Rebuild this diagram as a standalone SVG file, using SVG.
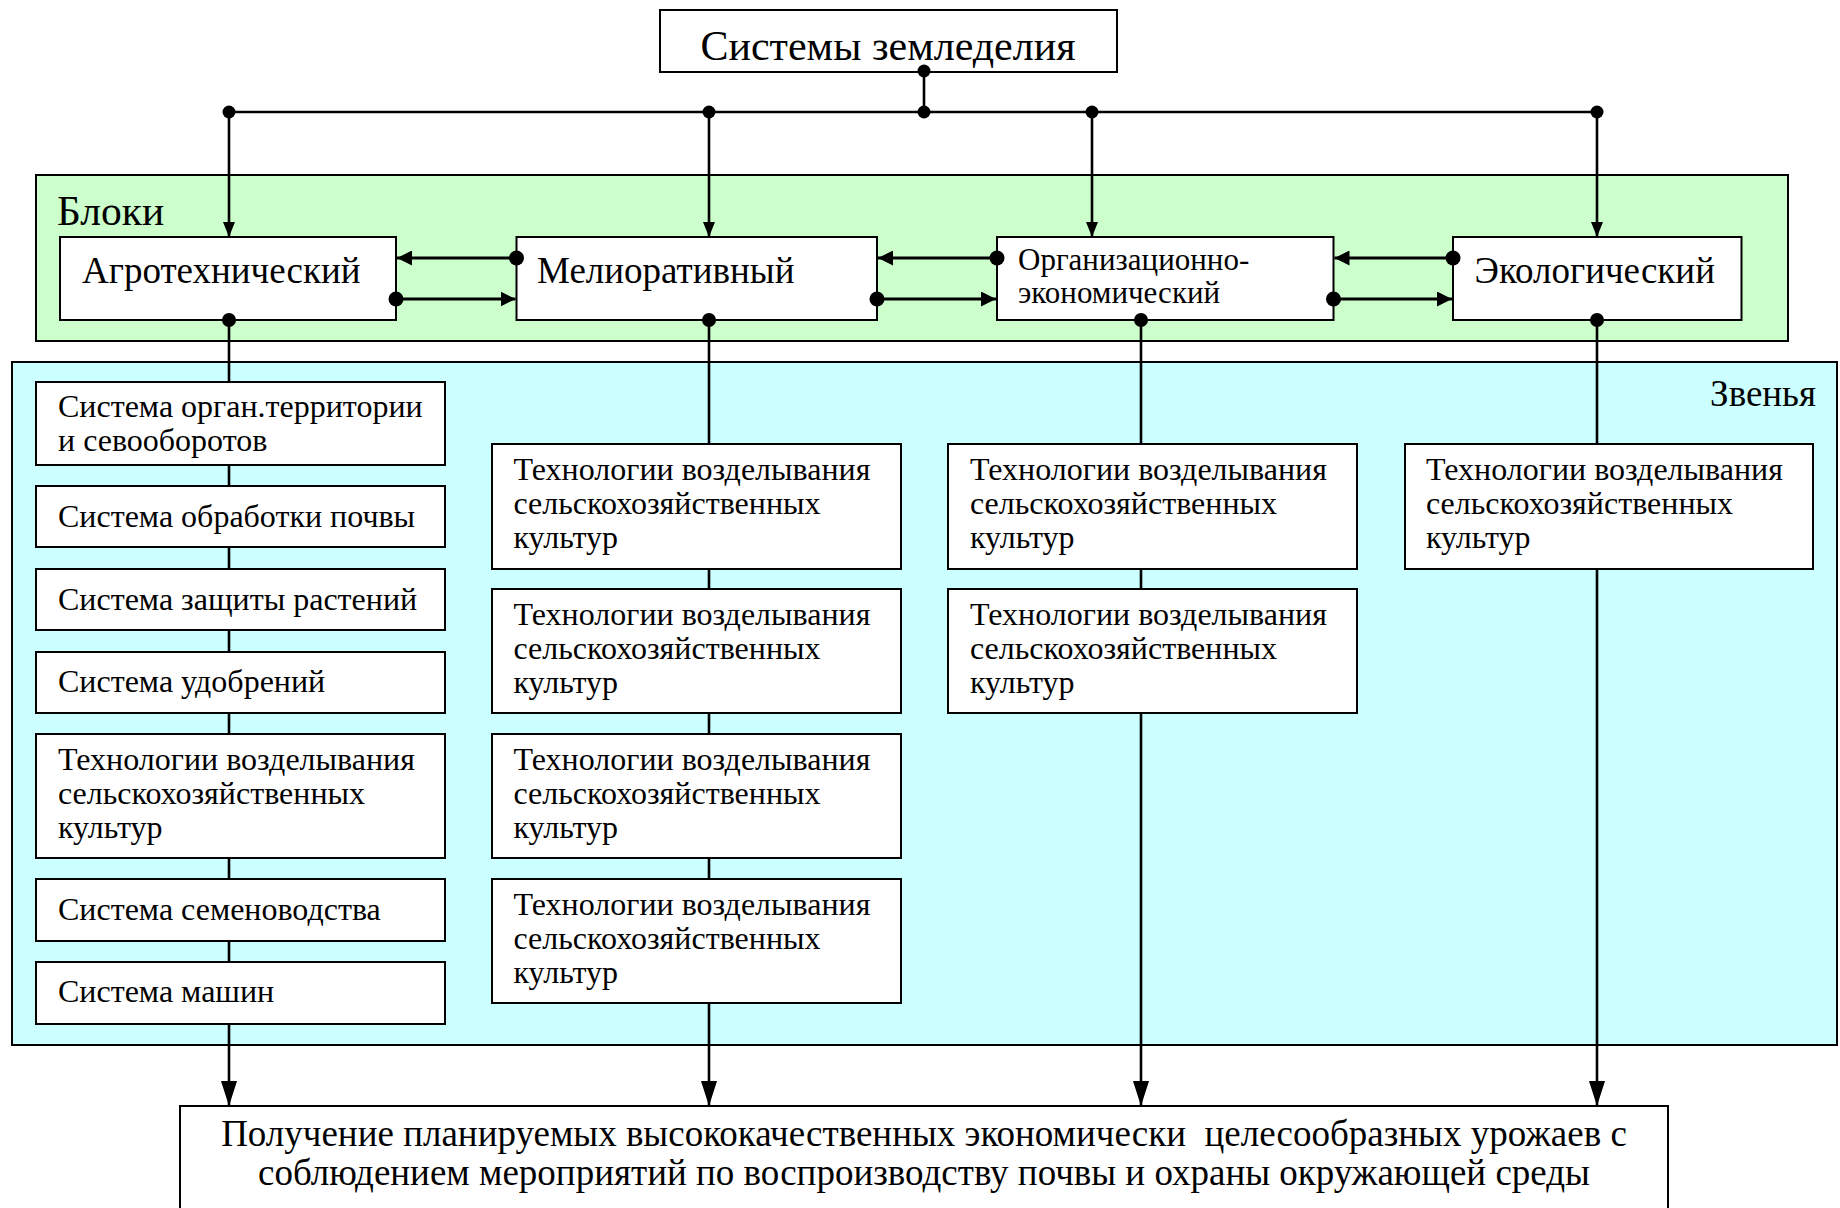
<svg xmlns="http://www.w3.org/2000/svg" width="1840" height="1208" viewBox="0 0 1840 1208">
<defs>
<style>
.t{font-family:"Liberation Serif","Times New Roman",serif;fill:#000}
.box{fill:#fff;stroke:#000;stroke-width:2}
.ln{fill:none;stroke:#000;stroke-width:2.6}
.lh{fill:none;stroke:#000;stroke-width:3}
.dot{fill:#000}
.s31{font-size:32px}
.s36{font-size:37px}
.s32{font-size:31px}
</style>
<marker id="arrT" markerUnits="userSpaceOnUse" viewBox="0 0 15 12" refX="15" refY="6" markerWidth="15" markerHeight="12" orient="auto"><path d="M0,0 L15,6 L0,12 z" fill="#000"/></marker>
<marker id="arrH" markerUnits="userSpaceOnUse" viewBox="0 0 15 15" refX="15" refY="7.5" markerWidth="15" markerHeight="15" orient="auto"><path d="M0,0 L15,7.5 L0,15 z" fill="#000"/></marker>
<marker id="arrB" markerUnits="userSpaceOnUse" viewBox="0 0 25 16" refX="25" refY="8" markerWidth="25" markerHeight="16" orient="auto"><path d="M0,0 L25,8 L0,16 z" fill="#000"/></marker>
</defs>
<rect width="1840" height="1208" fill="#fff"/>

<g id="blocks-area">
<rect x="36" y="175" width="1752" height="166" fill="#CCFFCC" stroke="#000" stroke-width="2"/>
<text class="t" x="57" y="225" font-size="41.5">Блоки</text>
</g>
<g id="links-area">
<rect x="12" y="362" width="1825" height="683" fill="#CCFFFF" stroke="#000" stroke-width="2"/>
<text class="t" x="1816" y="406" font-size="37" text-anchor="end">Звенья</text>
</g>

<g id="title"><rect class="box" x="660" y="10" width="457" height="62"/><text class="t" x="888" y="60" font-size="42" text-anchor="middle">Системы земледелия</text></g>

<g id="agro"><rect class="box" x="60" y="237" width="336" height="83"/><text class="t s36" x="82" y="283">Агротехнический</text></g>
<g id="melior"><rect class="box" x="516.5" y="237" width="360.5" height="83"/><text class="t s36" x="537" y="283">Мелиоративный</text></g>
<g id="org"><rect class="box" x="997" y="237" width="336.5" height="83"/><text class="t s32" x="1018" y="270">Организационно-</text><text class="t s32" x="1018" y="303">экономический</text></g>
<g id="eco"><rect class="box" x="1453" y="237" width="288.5" height="83"/><text class="t s36" x="1474.5" y="283">Экологический</text></g>

<g id="l1"><rect class="box" x="36" y="382" width="409" height="83"/><text class="t s31" x="58" y="417">Система орган.территории</text><text class="t s31" x="58" y="451">и севооборотов</text></g>
<g id="l2"><rect class="box" x="36" y="486" width="409" height="61"/><text class="t s31" x="58" y="527">Система обработки почвы</text></g>
<g id="l3"><rect class="box" x="36" y="569" width="409" height="61"/><text class="t s31" x="58" y="610">Система защиты растений</text></g>
<g id="l4"><rect class="box" x="36" y="652" width="409" height="61"/><text class="t s31" x="58" y="692">Система удобрений</text></g>
<g id="l5"><rect class="box" x="36" y="734" width="409" height="124"/><text class="t s31" x="58" y="770">Технологии возделывания</text><text class="t s31" x="58" y="804">сельскохозяйственных</text><text class="t s31" x="58" y="838">культур</text></g>
<g id="l6"><rect class="box" x="36" y="879" width="409" height="62"/><text class="t s31" x="58" y="920">Система семеноводства</text></g>
<g id="l7"><rect class="box" x="36" y="962" width="409" height="62"/><text class="t s31" x="58" y="1002">Система машин</text></g>

<g id="m1"><rect class="box" x="492" y="444" width="409" height="125"/><text class="t s31" x="513.5" y="480">Технологии возделывания</text><text class="t s31" x="513.5" y="514">сельскохозяйственных</text><text class="t s31" x="513.5" y="548">культур</text></g>
<g id="m2"><rect class="box" x="492" y="589" width="409" height="124"/><text class="t s31" x="513.5" y="625">Технологии возделывания</text><text class="t s31" x="513.5" y="659">сельскохозяйственных</text><text class="t s31" x="513.5" y="693">культур</text></g>
<g id="m3"><rect class="box" x="492" y="734" width="409" height="124"/><text class="t s31" x="513.5" y="770">Технологии возделывания</text><text class="t s31" x="513.5" y="804">сельскохозяйственных</text><text class="t s31" x="513.5" y="838">культур</text></g>
<g id="m4"><rect class="box" x="492" y="879" width="409" height="124"/><text class="t s31" x="513.5" y="915">Технологии возделывания</text><text class="t s31" x="513.5" y="949">сельскохозяйственных</text><text class="t s31" x="513.5" y="983">культур</text></g>

<g id="o1"><rect class="box" x="948" y="444" width="409" height="125"/><text class="t s31" x="970" y="480">Технологии возделывания</text><text class="t s31" x="970" y="514">сельскохозяйственных</text><text class="t s31" x="970" y="548">культур</text></g>
<g id="o2"><rect class="box" x="948" y="589" width="409" height="124"/><text class="t s31" x="970" y="625">Технологии возделывания</text><text class="t s31" x="970" y="659">сельскохозяйственных</text><text class="t s31" x="970" y="693">культур</text></g>

<g id="e1"><rect class="box" x="1405" y="444" width="408" height="125"/><text class="t s31" x="1426" y="480">Технологии возделывания</text><text class="t s31" x="1426" y="514">сельскохозяйственных</text><text class="t s31" x="1426" y="548">культур</text></g>

<g id="result"><rect class="box" x="180" y="1106" width="1488" height="120"/><text class="t" x="924" y="1146" font-size="37" text-anchor="middle" xml:space="preserve">Получение планируемых высококачественных экономически  целесообразных урожаев с</text><text class="t" x="924" y="1185" font-size="37" text-anchor="middle">соблюдением мероприятий по воспроизводству почвы и охраны окружающей среды</text></g>

<g id="connectors">
<path class="ln" d="M924,71 V112 M229,112 H1597"/>
<path class="ln" d="M229,112 V237" marker-end="url(#arrT)"/>
<path class="ln" d="M709,112 V237" marker-end="url(#arrT)"/>
<path class="ln" d="M1092,112 V237" marker-end="url(#arrT)"/>
<path class="ln" d="M1597,112 V237" marker-end="url(#arrT)"/>

<path class="lh" d="M516.5,258 H397" marker-end="url(#arrH)"/>
<path class="lh" d="M396,299 H515.5" marker-end="url(#arrH)"/>
<path class="lh" d="M997,258 H878" marker-end="url(#arrH)"/>
<path class="lh" d="M877,299 H996" marker-end="url(#arrH)"/>
<path class="lh" d="M1453,258 H1334.5" marker-end="url(#arrH)"/>
<path class="lh" d="M1333.5,299 H1452" marker-end="url(#arrH)"/>

<path class="ln" d="M229,320 V382 M229,465 V486 M229,547 V569 M229,630 V652 M229,713 V734 M229,858 V879 M229,941 V962"/>
<path class="ln" d="M229,1024 V1106" marker-end="url(#arrB)"/>
<path class="ln" d="M709,320 V444 M709,569 V589 M709,713 V734 M709,858 V879"/>
<path class="ln" d="M709,1003 V1106" marker-end="url(#arrB)"/>
<path class="ln" d="M1141,320 V444 M1141,569 V589"/>
<path class="ln" d="M1141,713 V1106" marker-end="url(#arrB)"/>
<path class="ln" d="M1597,320 V444"/>
<path class="ln" d="M1597,569 V1106" marker-end="url(#arrB)"/>

<circle class="dot" cx="924" cy="71" r="6.5"/>
<circle class="dot" cx="924" cy="112" r="6.5"/>
<circle class="dot" cx="229" cy="112" r="6.5"/>
<circle class="dot" cx="709" cy="112" r="6.5"/>
<circle class="dot" cx="1092" cy="112" r="6.5"/>
<circle class="dot" cx="1597" cy="112" r="6.5"/>
<circle class="dot" cx="516.5" cy="258" r="7.5"/>
<circle class="dot" cx="396" cy="299" r="7.5"/>
<circle class="dot" cx="997" cy="258" r="7.5"/>
<circle class="dot" cx="877" cy="299" r="7.5"/>
<circle class="dot" cx="1453" cy="258" r="7.5"/>
<circle class="dot" cx="1333.5" cy="299" r="7.5"/>
<circle class="dot" cx="229" cy="320" r="7"/>
<circle class="dot" cx="709" cy="320" r="7"/>
<circle class="dot" cx="1141" cy="320" r="7"/>
<circle class="dot" cx="1597" cy="320" r="7"/>
</g>
</svg>
